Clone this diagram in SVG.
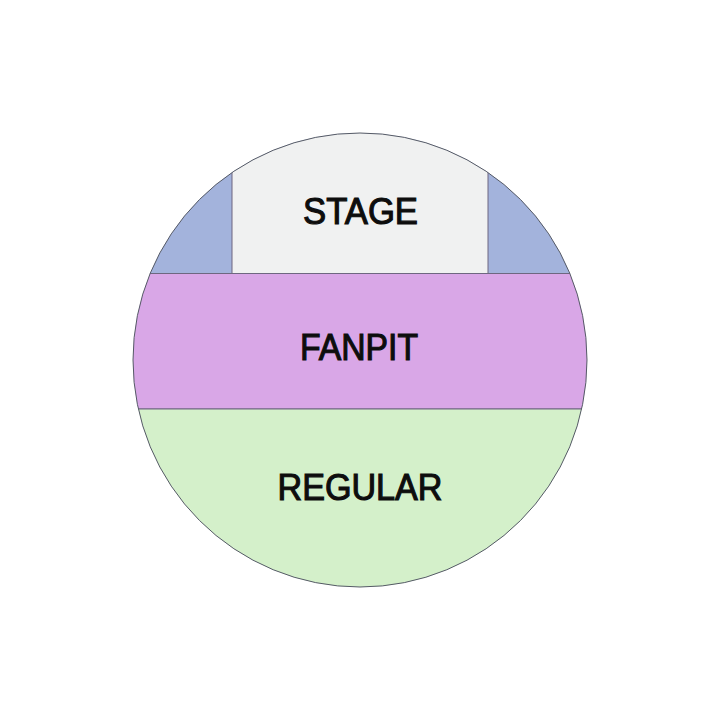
<svg xmlns="http://www.w3.org/2000/svg" width="720" height="720" viewBox="0 0 720 720">
<style>
.sec{stroke:#6e6780;stroke-width:1}
.lbl{font-family:"Liberation Sans",Arial,sans-serif;font-size:36px;fill:#0d0d0d;stroke:#0d0d0d;stroke-width:1.1;text-anchor:middle}
</style>
<defs>
<clipPath id="c"><circle cx="360" cy="360" r="227"/></clipPath>
</defs>
<rect width="720" height="720" fill="#ffffff"/>
<g clip-path="url(#c)">
<g id="wings">
<rect class="sec" x="120" y="120" width="480" height="153.5" fill="#a3b3dc"/>
</g>
<g id="stage">
<rect class="sec" x="232" y="120" width="256" height="153.5" fill="#f0f1f1"/>
</g>
<g id="fanpit">
<rect class="sec" x="120" y="273.5" width="480" height="135.5" fill="#d9a7e7"/>
</g>
<g id="regular">
<rect class="sec" x="120" y="409" width="480" height="200" fill="#d4f0ca"/>
</g>
</g>
<circle cx="360" cy="360" r="227" fill="none" stroke="#555a66" stroke-width="1"/>
<text class="lbl" x="360.5" y="223.5" textLength="115" lengthAdjust="spacingAndGlyphs">STAGE</text>
<text class="lbl" x="359" y="359.5" textLength="118" lengthAdjust="spacingAndGlyphs">FANPIT</text>
<text class="lbl" x="360" y="500" textLength="165" lengthAdjust="spacingAndGlyphs">REGULAR</text>
</svg>
